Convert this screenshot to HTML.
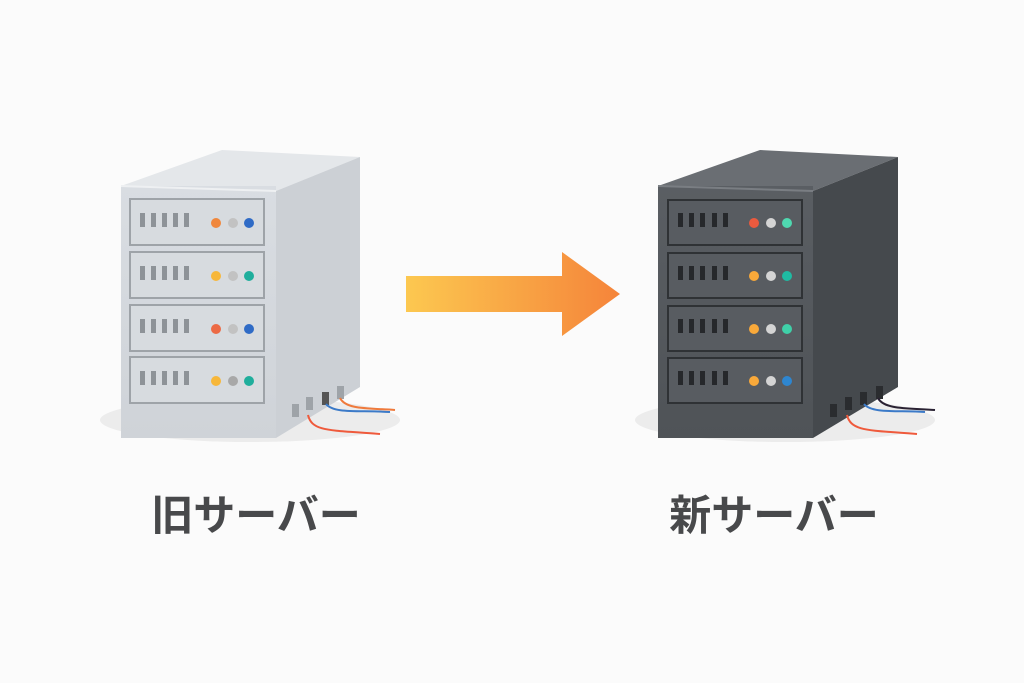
<!DOCTYPE html>
<html><head><meta charset="utf-8"><style>
html,body{margin:0;padding:0;background:#fbfbfb;}
svg{display:block}
text{font-family:"Liberation Sans","Noto Sans CJK JP",sans-serif;fill:#48494b;font-size:42px;font-weight:bold;}
</style></head><body>
<svg width="1024" height="683" viewBox="0 0 1024 683" xmlns="http://www.w3.org/2000/svg">
<defs>
<linearGradient id="ar" x1="0" x2="1" y1="0" y2="0"><stop offset="0" stop-color="#fcc850"/><stop offset="1" stop-color="#f5843a"/></linearGradient>
<linearGradient id="lf" x1="0" x2="0" y1="0" y2="1"><stop offset="0" stop-color="#d9dde2"/><stop offset="1" stop-color="#cfd3d8"/></linearGradient>
<linearGradient id="df" x1="0" x2="0" y1="0" y2="1"><stop offset="0" stop-color="#5a5e63"/><stop offset="1" stop-color="#4f5357"/></linearGradient>
</defs>
<ellipse cx="250" cy="420" rx="150" ry="22" fill="#ececec"/>
<ellipse cx="785" cy="420" rx="150" ry="22" fill="#ececec"/>

<g>
<polygon points="121,186 222,150 360,157 276,191" fill="#e4e7ea"/>
<polygon points="276,191 360,157 360,387 276,438" fill="#ccd0d5"/>
<rect x="121" y="186" width="155" height="252" fill="url(#lf)"/>
<line x1="121" y1="186" x2="276" y2="191" stroke="#eef0f2" stroke-width="2"/>
<g id="od">
<rect x="130" y="199" width="134" height="46" fill="#d7dbdf" stroke="#9ea3a8" stroke-width="2"/>
<g fill="#8e9398"><rect x="140" y="213" width="5" height="14"/><rect x="151" y="213" width="5" height="14"/><rect x="162" y="213" width="5" height="14"/><rect x="173" y="213" width="5" height="14"/><rect x="184" y="213" width="5" height="14"/></g>
</g>
<use href="#od" y="53"/><use href="#od" y="106"/><use href="#od" y="158"/>
<circle cx="216" cy="223" r="5" fill="#f0873c"/><circle cx="233" cy="223" r="5" fill="#c2c2c2"/><circle cx="249" cy="223" r="5" fill="#2f6bc6"/>
<circle cx="216" cy="276" r="5" fill="#f7b73a"/><circle cx="233" cy="276" r="5" fill="#c2c2c2"/><circle cx="249" cy="276" r="5" fill="#1fae9c"/>
<circle cx="216" cy="329" r="5" fill="#ec6a45"/><circle cx="233" cy="329" r="5" fill="#c2c2c2"/><circle cx="249" cy="329" r="5" fill="#2f6bc6"/>
<circle cx="216" cy="381" r="5" fill="#f7b73a"/><circle cx="233" cy="381" r="5" fill="#a8a8a8"/><circle cx="249" cy="381" r="5" fill="#1fae9c"/>
<g fill="#9ea3a8"><rect x="292" y="404" width="7" height="13"/><rect x="306" y="397" width="7" height="13"/><rect x="322" y="392" width="7" height="13" fill="#555"/><rect x="337" y="386" width="7" height="13"/></g>
<path d="M308,415 C312,432 330,430 380,434" stroke="#ef5a3c" stroke-width="2" fill="none"/>
<path d="M326,404 C334,414 360,410 390,412" stroke="#3b7ac8" stroke-width="2" fill="none"/>
<path d="M340,398 C346,410 370,408 395,410" stroke="#ef7a3c" stroke-width="2" fill="none"/>
</g>

<polygon points="406,276 562,276 562,252 620,294 562,336 562,312 406,312" fill="url(#ar)"/>

<g>
<polygon points="658,186 760,150 898,157 813,191" fill="#6a6e73"/>
<polygon points="813,191 898,157 898,387 813,438" fill="#45494d"/>
<rect x="658" y="186" width="155" height="252" fill="url(#df)"/>
<line x1="658" y1="186" x2="813" y2="191" stroke="#7a7e83" stroke-width="2"/>
<g id="nd">
<rect x="668" y="200" width="134" height="45" fill="#585c61" stroke="#2f3235" stroke-width="2"/>
<g fill="#26282b"><rect x="678" y="213" width="5" height="14"/><rect x="689" y="213" width="5" height="14"/><rect x="700" y="213" width="5" height="14"/><rect x="712" y="213" width="5" height="14"/><rect x="723" y="213" width="5" height="14"/></g>
</g>
<use href="#nd" y="53"/><use href="#nd" y="106"/><use href="#nd" y="158"/>
<circle cx="754" cy="223" r="5" fill="#eb5a3e"/><circle cx="771" cy="223" r="5" fill="#d4d4d4"/><circle cx="787" cy="223" r="5" fill="#4fd8b0"/>
<circle cx="754" cy="276" r="5" fill="#f9a93a"/><circle cx="771" cy="276" r="5" fill="#d4d4d4"/><circle cx="787" cy="276" r="5" fill="#1fbba3"/>
<circle cx="754" cy="329" r="5" fill="#f9a93a"/><circle cx="771" cy="329" r="5" fill="#d4d4d4"/><circle cx="787" cy="329" r="5" fill="#3fd0a8"/>
<circle cx="754" cy="381" r="5" fill="#f9a93a"/><circle cx="771" cy="381" r="5" fill="#d4d4d4"/><circle cx="787" cy="381" r="5" fill="#2e86d0"/>
<g fill="#2a2c2f"><rect x="830" y="404" width="7" height="13"/><rect x="845" y="397" width="7" height="13"/><rect x="860" y="392" width="7" height="13"/><rect x="876" y="386" width="7" height="13"/></g>
<path d="M847,415 C851,432 870,430 917,434" stroke="#ef5a3c" stroke-width="2" fill="none"/>
<path d="M864,404 C872,414 900,410 925,412" stroke="#3b7ac8" stroke-width="2" fill="none"/>
<path d="M878,398 C884,410 910,408 935,410" stroke="#2a2233" stroke-width="2" fill="none"/>
</g>

<text x="256" y="530" text-anchor="middle">旧サーバー</text>
<text x="774" y="530" text-anchor="middle">新サーバー</text>
</svg>
</body></html>
